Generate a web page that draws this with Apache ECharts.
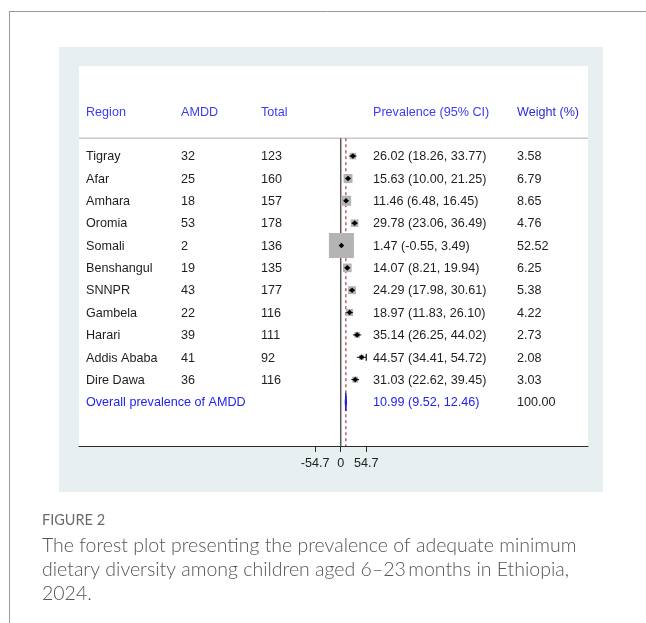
<!DOCTYPE html>
<html>
<head>
<meta charset="utf-8">
<script src="https://cdn.jsdelivr.net/npm/echarts@6/dist/echarts.min.js"></script>
<style>
  html, body { margin: 0; padding: 0; background: #fff; }
  #chart { width: 646px; height: 623px; }
</style>
</head>
<body>
<div id="chart"></div>
<script>
// Study rows of the forest plot
const regions = ['Tigray', 'Afar', 'Amhara', 'Oromia', 'Somali', 'Benshangul', 'SNNPR', 'Gambela', 'Harari', 'Addis Ababa', 'Dire Dawa'];
const amdd = [32, 25, 18, 53, 2, 19, 43, 22, 39, 41, 36];
const totals = [123, 160, 157, 178, 136, 135, 177, 116, 111, 92, 116];
const prevalence = [26.02, 15.63, 11.46, 29.78, 1.47, 14.07, 24.29, 18.97, 35.14, 44.57, 31.03];
const ciLower = [18.26, 10.00, 6.48, 23.06, -0.55, 8.21, 17.98, 11.83, 26.25, 34.41, 22.62];
const ciUpper = [33.77, 21.25, 16.45, 36.49, 3.49, 19.94, 30.61, 26.10, 44.02, 54.72, 39.45];
const weights = [3.58, 6.79, 8.65, 4.76, 52.52, 6.25, 5.38, 4.22, 2.73, 2.08, 3.03];

// Pooled estimate
const overallLabel = 'Overall prevalence of AMDD';
const overallEstimate = 10.99;
const overallLower = 9.52;
const overallUpper = 12.46;
const overallWeight = 100.00;

// Table header and axis ticks
const headers = ['Region', 'AMDD', 'Total', 'Prevalence (95% CI)', 'Weight (%)'];
const axisTicks = [-54.7, 0, 54.7];

// Caption
const figureLabel = 'FIGURE 2';
const captionLines = [
  'The forest plot presenting the prevalence of adequate minimum',
  'dietary diversity among children aged 6\u201323\u2009months in Ethiopia,',
  '2024.'
];

// ---- layout ----
const colX = [86, 181, 261, 373, 517];     // left edges of table columns (px)
const headerRow = -2;                      // row index of the header line of text
const separatorRow = -0.8;                 // rule under the header
const overallRow = regions.length;
const yMin = -4.03, yMax = 12.97;
const boxScale = 3.45;                     // box side = boxScale * sqrt(weight)
const plotLimit = Math.max(...axisTicks);
const tableFont = { fontSize: 12.6, fontFamily: '"Liberation Sans", Arial, sans-serif' };

const fmt2 = v => v.toFixed(2);
const ciText = (e, l, h) => `${fmt2(e)} (${fmt2(l)}, ${fmt2(h)})`;

function textEl(text, x, y, fill) {
  return { type: 'text', style: Object.assign({ text, x, y: y + 0.8, fill, align: 'left', verticalAlign: 'middle' }, tableFont) };
}

const chart = echarts.init(document.getElementById('chart'), null, { renderer: 'canvas' });

const option = {
  animation: false,
  graphic: [
    { type: 'line', z: -20, shape: { x1: 9.5, y1: 11, x2: 9.5, y2: 623 }, style: { stroke: '#9a9a9a', lineWidth: 1 } },
    { type: 'line', z: -20, shape: { x1: 9, y1: 11.5, x2: 646, y2: 11.5 }, style: { stroke: '#9a9a9a', lineWidth: 1 } },
    { type: 'rect', z: -10, shape: { x: 59, y: 47, width: 544, height: 445 }, style: { fill: '#e8eff1' } },
    { type: 'text', left: 42, top: 513, style: { text: figureLabel, fill: '#6a6a6a', fontSize: 14.5, fontWeight: 'normal', fontFamily: 'Lato, "Open Sans", sans-serif' } },
    { type: 'text', left: 42, top: 534, style: { text: captionLines.join('\n'), fill: '#555555', fontSize: 19.5, fontWeight: 300, lineHeight: 24, fontFamily: 'Lato, "Open Sans", sans-serif' } }
  ],
  grid: { left: 79, top: 66, width: 509, height: 380, show: true, backgroundColor: '#ffffff', borderWidth: 0 },
  xAxis: {
    type: 'value', min: -561, max: 530,
    axisLine: { show: true, onZero: false, lineStyle: { color: '#2b2b2b', width: 1 } },
    axisTick: { show: true, customValues: axisTicks, length: 6, lineStyle: { color: '#2b2b2b' } },
    axisLabel: { show: true, customValues: axisTicks, color: '#222', fontSize: 12.6, margin: 11,
                 fontFamily: tableFont.fontFamily, formatter: v => String(v) },
    splitLine: { show: false }
  },
  yAxis: { type: 'value', inverse: true, min: yMin, max: yMax, show: false, splitLine: { show: false } },
  series: [
    // header row and rule
    {
      type: 'custom', data: [[0, headerRow]],
      renderItem(params, api) {
        const cs = params.coordSys;
        const y = api.coord([0, headerRow])[1];
        const ys = api.coord([0, separatorRow])[1];
        const kids = headers.map((h, k) => textEl(h, colX[k], y, k === 4 ? '#2a2ad8' : '#3c3cf5'));
        kids.push({ type: 'line', shape: { x1: cs.x, y1: ys, x2: cs.x + cs.width, y2: ys }, style: { stroke: '#c9c9c9', lineWidth: 1.5 } });
        return { type: 'group', children: kids };
      }
    },
    // study rows of the table
    {
      type: 'custom', data: regions.map((r, i) => [0, i]),
      renderItem(params, api) {
        const i = params.dataIndex;
        const y = api.coord([0, i])[1];
        const c = '#1e1e1e';
        return { type: 'group', children: [
          textEl(regions[i], colX[0], y, c),
          textEl(String(amdd[i]), colX[1], y, c),
          textEl(String(totals[i]), colX[2], y, c),
          textEl(ciText(prevalence[i], ciLower[i], ciUpper[i]), colX[3], y, c),
          textEl(fmt2(weights[i]), colX[4], y, c)
        ] };
      }
    },
    // pooled row of the table
    {
      type: 'custom', data: [[0, overallRow]],
      renderItem(params, api) {
        const y = api.coord([0, overallRow])[1];
        return { type: 'group', children: [
          textEl(overallLabel, colX[0], y, '#2323f0'),
          textEl(ciText(overallEstimate, overallLower, overallUpper), colX[3], y, '#2323f0'),
          textEl(fmt2(overallWeight), colX[4], y, '#1e1e1e')
        ] };
      }
    },
    // no-effect line and pooled-estimate dashed line
    {
      type: 'custom', data: [[0, 0], [overallEstimate, 1]],
      renderItem(params, api) {
        const x = api.value(0);
        const p0 = api.coord([x, separatorRow]);
        const p1 = api.coord([x, yMax]);
        const dashed = api.value(1) === 1;
        return { type: 'line', shape: { x1: p0[0], y1: p0[1], x2: p1[0], y2: p1[1] },
          style: dashed ? { stroke: '#a83c3c', lineWidth: 1.2, lineDash: [3, 3] } : { stroke: '#5a5a5a', lineWidth: 1.5 } };
      }
    },
    // weighted boxes, confidence intervals and point estimates
    {
      type: 'custom',
      data: regions.map((r, i) => [prevalence[i], i, ciLower[i], ciUpper[i], weights[i]]),
      renderItem(params, api) {
        const est = api.value(0), row = api.value(1), lo = api.value(2), hi = api.value(3), w = api.value(4);
        const c = api.coord([est, row]);
        const pl = api.coord([Math.max(lo, -plotLimit), row]);
        const ph = api.coord([Math.min(hi, plotLimit), row]);
        const s = boxScale * Math.sqrt(w);
        const d = 2.8;
        const kids = [
          { type: 'rect', shape: { x: c[0] - s / 2, y: c[1] - s / 2, width: s, height: s }, style: { fill: '#b4b4b4' } },
          { type: 'line', shape: { x1: pl[0], y1: c[1], x2: ph[0], y2: c[1] }, style: { stroke: '#111', lineWidth: 1 } },
          { type: 'polygon', shape: { points: [[c[0] - d, c[1]], [c[0], c[1] - d], [c[0] + d, c[1]], [c[0], c[1] + d]] }, style: { fill: '#000' } }
        ];
        if (hi > plotLimit) {
          kids.push({ type: 'line', shape: { x1: ph[0], y1: c[1] - 3.5, x2: ph[0], y2: c[1] + 3.5 }, style: { stroke: '#111', lineWidth: 1.2 } });
        }
        return { type: 'group', children: kids };
      }
    },
    // pooled diamond
    {
      type: 'custom', data: [[overallEstimate, overallRow, overallLower, overallUpper]],
      renderItem(params, api) {
        const row = api.value(1);
        const c = api.coord([api.value(0), row]);
        const l = api.coord([api.value(2), row]);
        const h = api.coord([api.value(3), row]);
        const hh = 9;
        return { type: 'polygon', shape: { points: [[l[0], c[1]], [c[0], c[1] - hh], [h[0], c[1]], [c[0], c[1] + hh]] },
          style: { fill: '#1c1cd0', stroke: '#1c1cd0', lineWidth: 1 } };
      }
    }
  ]
};

chart.setOption(option);
</script>
</body>
</html>
